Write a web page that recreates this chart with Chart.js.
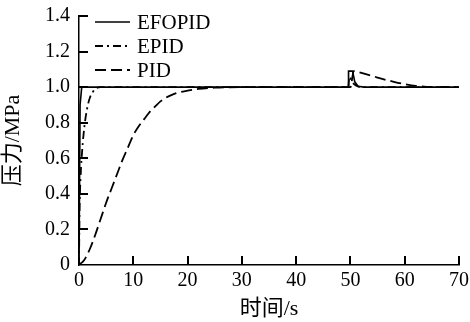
<!DOCTYPE html>
<html>
<head>
<meta charset="utf-8">
<script src="https://cdn.jsdelivr.net/npm/chart.js@4"></script>
<style>
  html, body { margin: 0; padding: 0; background: #fff; }
  #wrap { width: 470px; height: 322px; }
</style>
</head>
<body>
<div id="wrap"><canvas id="chart" width="470" height="322"></canvas></div>
<script>
// time points (s) and pressure values (MPa)
const tEFOPID = [0, 0.2, 0.5, 49.6, 49.65, 50.4, 50.8, 51.4, 52.5, 70];
const efopid  = [0, 0.9, 1.0, 1.0, 1.09, 1.09, 1.03, 1.005, 1.0, 1.0];

const tEPID = [0, 0.1, 0.3, 0.6, 1, 1.5, 2, 2.5, 3, 4, 49.6, 49.8, 50.3, 51, 52, 70];
const epid  = [0, 0.3, 0.5, 0.65, 0.78, 0.88, 0.94, 0.97, 0.99, 1.0, 1.0, 1.06, 1.03, 1.01, 1.0, 1.0];

const tPID = [0, 1, 2, 3, 4, 5, 6, 7, 8, 9, 10, 11, 12, 13, 14, 15, 16, 17, 18, 20, 22, 25, 30, 50, 50.6, 52, 54, 56, 58, 60, 62, 64, 66, 70];
const pid  = [0, 0.03, 0.09, 0.17, 0.26, 0.35, 0.43, 0.51, 0.59, 0.66, 0.73, 0.78, 0.82, 0.86, 0.89, 0.92, 0.94, 0.955, 0.967, 0.98, 0.99, 0.997, 1.0, 1.0, 1.09, 1.08, 1.063, 1.045, 1.03, 1.017, 1.007, 1.002, 1.0, 1.0];

const seriesNames = ['EFOPID', 'EPID', 'PID'];
const xTicks = [0, 10, 20, 30, 40, 50, 60, 70];
const yTicks = [0, 0.2, 0.4, 0.6, 0.8, 1.0, 1.2, 1.4];

const FONT = "'Liberation Serif', 'Times New Roman', 'Noto Sans CJK SC', serif";

function toPoints(ts, vs) {
  return ts.map((t, i) => ({ x: t, y: vs[i] }));
}

// legend and inward tick marks, drawn after the chart
const overlay = {
  id: 'overlay',
  afterDraw(chart) {
    const ctx = chart.ctx;
    const area = chart.chartArea;
    const xs = chart.scales.x, ys = chart.scales.y;
    ctx.save();
    ctx.setLineDash([]);
    ctx.fillStyle = '#000';
    for (let i = 1; i < xTicks.length; i++) {
      const px = Math.round(xs.getPixelForValue(xTicks[i]));
      ctx.fillRect(px - 1, Math.round(area.bottom) - 9, 2, 9);
    }
    for (let i = 1; i < yTicks.length; i++) {
      const py = Math.round(ys.getPixelForValue(yTicks[i]));
      ctx.fillRect(Math.round(area.left), py - 1, 9, 2);
    }

    ctx.font = '21px ' + FONT;
    ctx.textBaseline = 'middle';
    chart.data.datasets.forEach((ds, i) => {
      const y = area.top + 6 + i * 24;
      const x0 = area.left + 16;
      ctx.strokeStyle = '#000';
      ctx.lineWidth = ds.borderWidth;
      ctx.setLineDash(ds.borderDash || []);
      ctx.beginPath();
      ctx.moveTo(x0, y);
      ctx.lineTo(x0 + 35, y);
      ctx.stroke();
      ctx.setLineDash([]);
      ctx.fillStyle = '#000';
      ctx.fillText(ds.label, x0 + 42, y + 1);
    });
    ctx.restore();
  }
};

new Chart(document.getElementById('chart'), {
  type: 'line',
  data: {
    datasets: [
      {
        label: seriesNames[0],
        data: toPoints(tEFOPID, efopid),
        borderColor: '#000',
        borderWidth: 1.6,
        pointRadius: 0,
        tension: 0
      },
      {
        label: seriesNames[1],
        data: toPoints(tEPID, epid),
        borderColor: '#000',
        borderWidth: 1.8,
        borderDash: [8, 4, 2, 4],
        pointRadius: 0,
        cubicInterpolationMode: 'monotone'
      },
      {
        label: seriesNames[2],
        data: toPoints(tPID, pid),
        borderColor: '#000',
        borderWidth: 1.8,
        borderDash: [11, 5],
        pointRadius: 0,
        cubicInterpolationMode: 'monotone'
      }
    ]
  },
  options: {
    responsive: false,
    animation: false,
    layout: { padding: 0 },
    plugins: {
      legend: { display: false },
      tooltip: { enabled: false }
    },
    scales: {
      x: {
        type: 'linear',
        min: 0,
        max: 70,
        afterBuildTicks: s => { s.ticks = xTicks.map(v => ({ value: v })); },
        grid: { display: false, drawTicks: false },
        border: { display: true, color: '#000', width: 1.5 },
        ticks: {
          color: '#000',
          padding: 4,
          maxRotation: 0,
          font: { family: FONT, size: 20 }
        },
        title: {
          display: true,
          text: '时间/s',
          color: '#000',
          padding: { top: 0, bottom: 0 },
          font: { family: FONT, size: 22 }
        },
        afterFit: s => { s.height = 57; s.paddingLeft = 0; s.paddingRight = 11; }
      },
      y: {
        min: 0,
        max: 1.4,
        afterBuildTicks: s => { s.ticks = yTicks.map(v => ({ value: v })); },
        grid: { display: false, drawTicks: false },
        border: { display: true, color: '#000', width: 1.5 },
        ticks: {
          color: '#000',
          padding: 9,
          font: { family: FONT, size: 20, lineHeight: 1 },
          callback: v => v === 0 ? '0' : v.toFixed(1)
        },
        title: {
          display: true,
          text: '压力/MPa',
          color: '#000',
          padding: { top: 0, bottom: 0 },
          font: { family: FONT, size: 22 }
        },
        afterFit: s => { s.width = 79; s.paddingTop = 16; s.paddingBottom = 0; }
      }
    }
  },
  plugins: [overlay]
});
</script>
</body>
</html>
